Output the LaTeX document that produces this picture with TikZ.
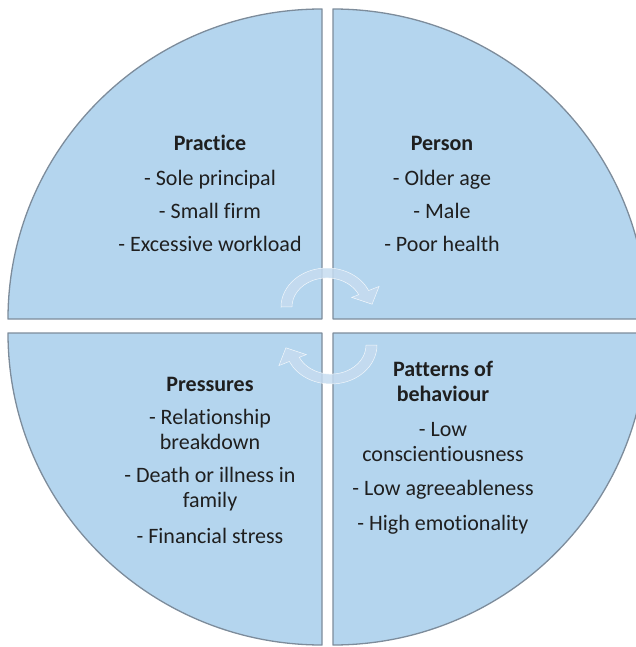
\documentclass[tikz,border=0pt]{standalone}
\usepackage{fontspec}
\setmainfont{Carlito}[Ligatures=NoCommon]
\definecolor{quadfill}{RGB}{180,213,238}
\definecolor{quadline}{RGB}{125,140,155}
\definecolor{arrowfill}{RGB}{198,220,240}
\begin{document}
\begin{tikzpicture}[x=1pt,y=1pt,
  quad/.style={fill=quadfill, draw=quadline, line width=1.3pt, line join=round},
  cyc/.style={fill=arrowfill, fill opacity=0.85, draw=white, line width=0.5pt, draw opacity=0.8},
  txt/.style={align=center, font=\fontsize{22}{25}\selectfont, text=black!88, inner sep=0pt, anchor=north}]
\useasboundingbox (0,0) rectangle (636,-647);
\clip (0,0) rectangle (636,-647);
% quadrants
\draw[quad] (322,-319) -- (8,-319) arc[start angle=180,end angle=90,x radius=314,y radius=310] -- cycle;
\draw[quad] (333,-319) -- (333,-9) arc[start angle=90,end angle=0,x radius=314,y radius=310] -- cycle;
\draw[quad] (322,-333) -- (8,-333) arc[start angle=180,end angle=270,x radius=314,y radius=312] -- cycle;
\draw[quad] (333,-333) -- (333,-645) arc[start angle=270,end angle=360,x radius=314,y radius=312] -- cycle;
% cycle arrows
\path[cyc] (281,-307) arc[start angle=180,end angle=25,x radius=46,y radius=39] -- (379.1,-286.4) -- (372.1,-304.2) -- (351.7,-297.4) -- (358.7,-294.7) arc[start angle=25,end angle=180,x radius=35,y radius=29] -- cycle;
\begin{scope}[rotate around={180:(329,-326)}]
\path[cyc] (281,-307) arc[start angle=180,end angle=25,x radius=46,y radius=39] -- (379.1,-286.4) -- (372.1,-304.2) -- (351.7,-297.4) -- (358.7,-294.7) arc[start angle=25,end angle=180,x radius=35,y radius=29] -- cycle;
\end{scope}
% texts
\node[txt] (practice) at (210,-135) {\textbf{Practice}\\[10pt] - Sole principal\\[8pt] - Small firm\\[8pt] - Excessive workload};
\node[txt] (person) at (442,-136) {\textbf{Person}\\[10pt] - Older age\\[8pt] - Male\\[8pt] - Poor health};
\node[txt] (pressures) at (210,-377) {\textbf{Pressures}\\[8pt] - Relationship\\ breakdown\\[8pt] - Death or illness in\\ family\\[11pt] - Financial stress};
\node[txt] (patterns) at (443,-361) {\textbf{Patterns of}\\\textbf{behaviour}\\[10pt] - Low\\ conscientiousness\\[9pt] - Low agreeableness\\[10pt] - High emotionality};
\end{tikzpicture}
\end{document}
